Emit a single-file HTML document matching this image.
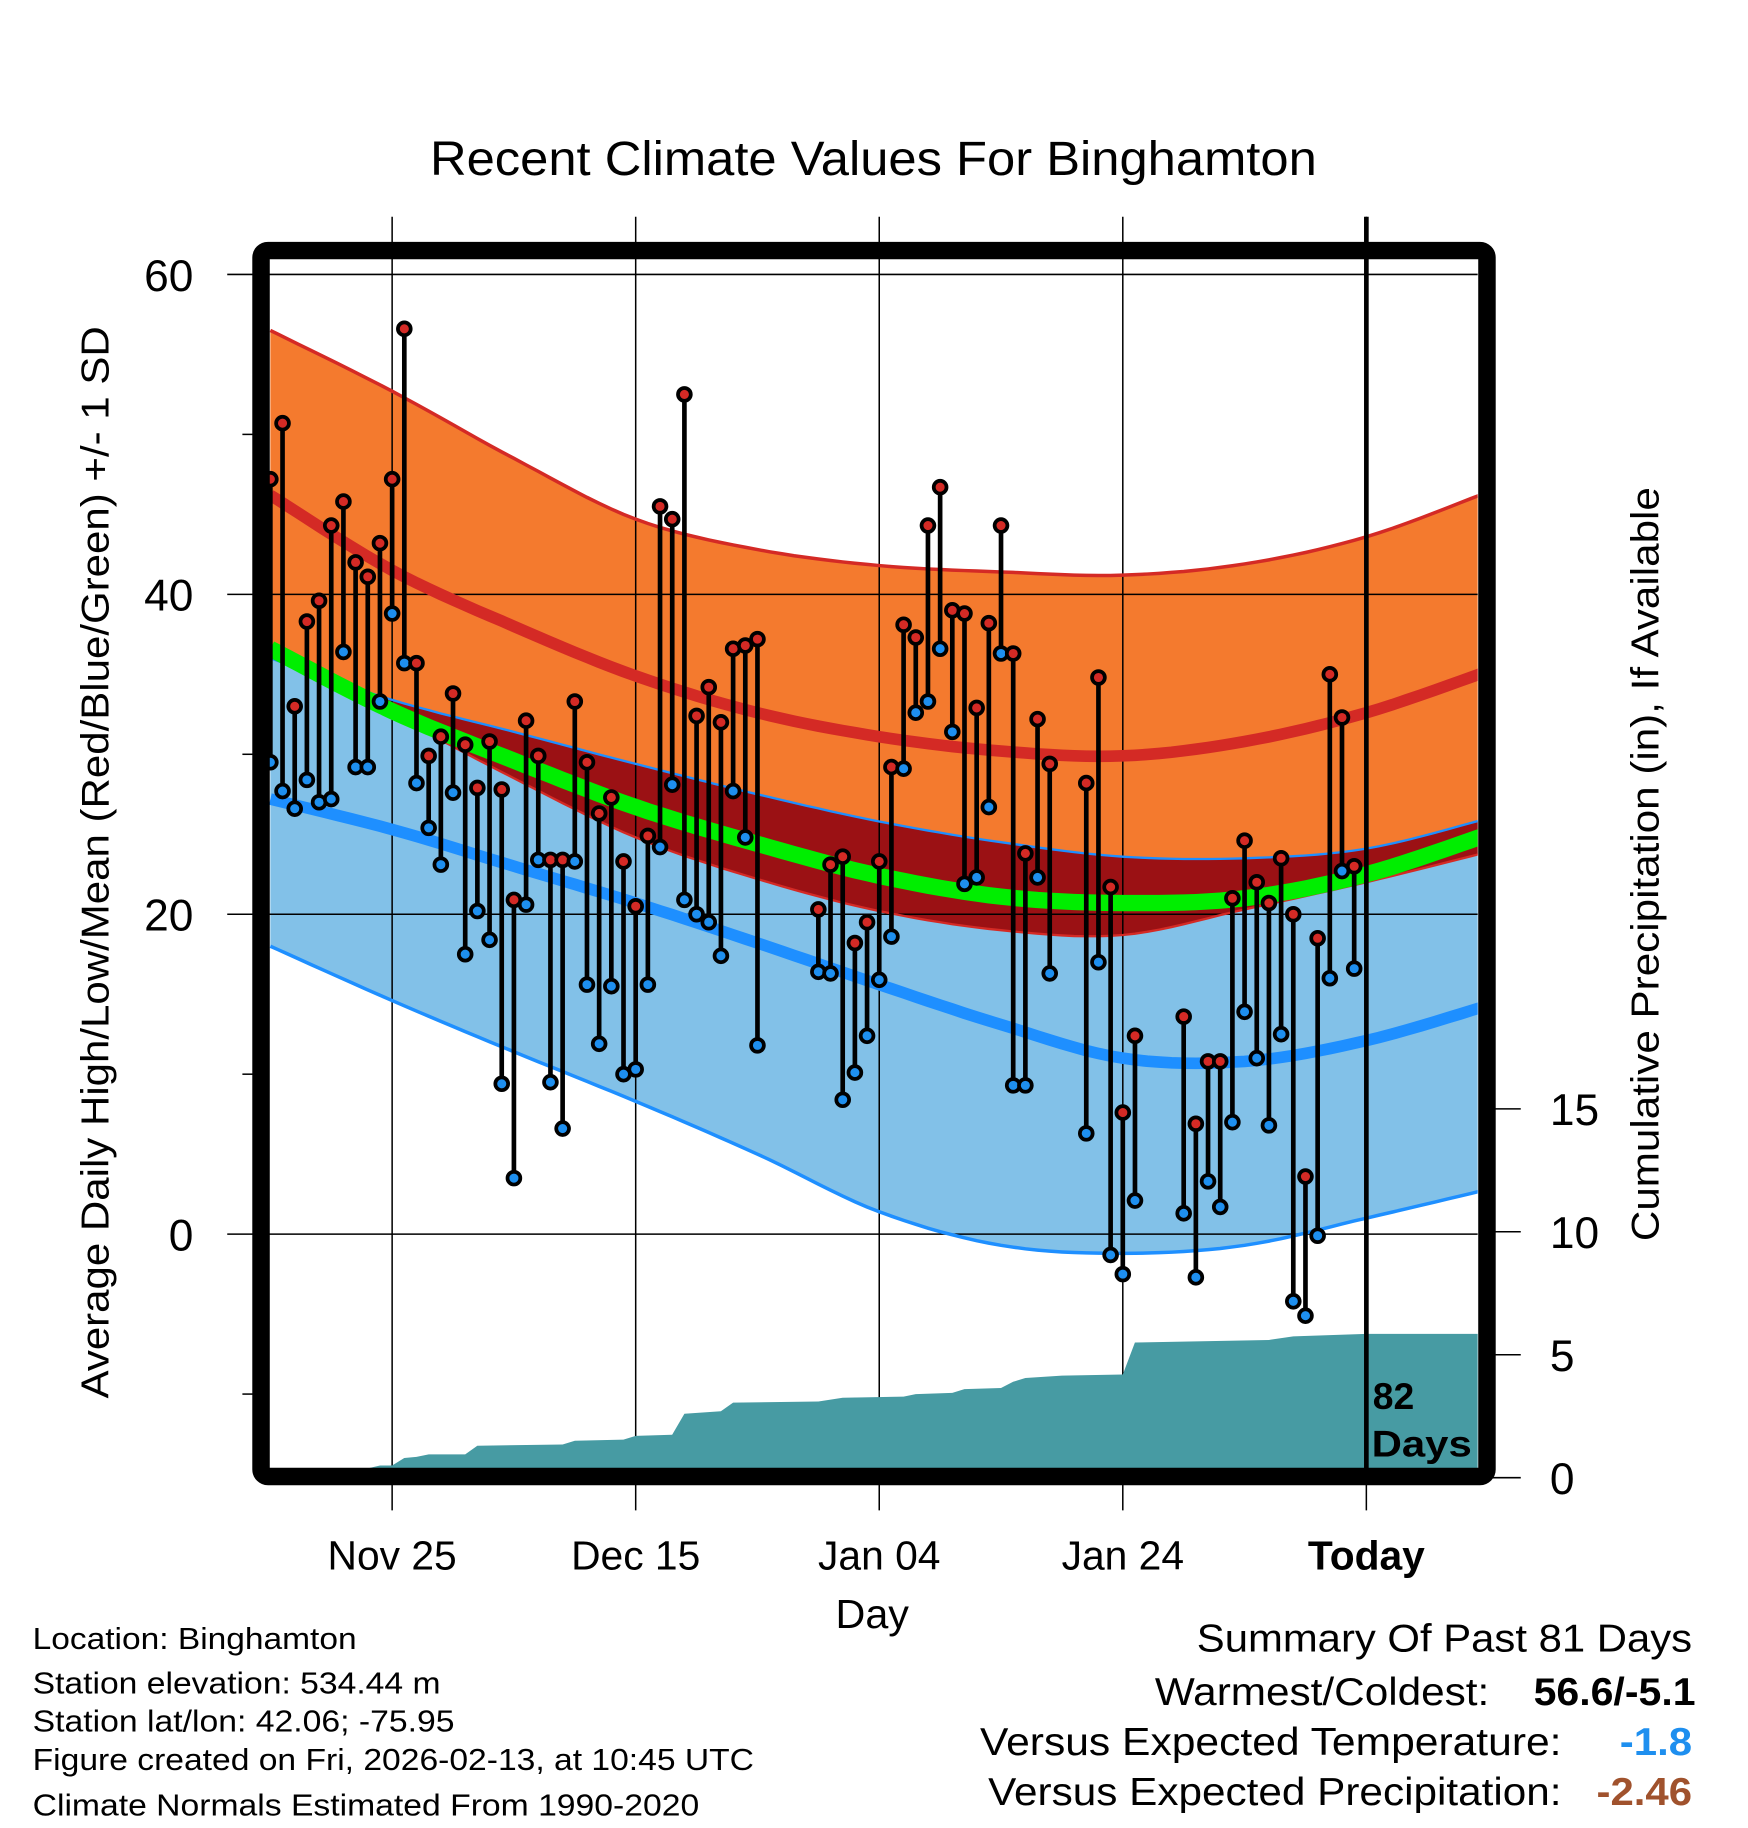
<!DOCTYPE html>
<html><head><meta charset="utf-8"><style>
html,body{margin:0;padding:0;background:#fff}
svg{display:block}
text{font-family:"Liberation Sans",Arial,sans-serif}
</style></head><body>
<svg id="chart" width="1748" height="1828" viewBox="0 0 1500 1568.6" preserveAspectRatio="none" xmlns="http://www.w3.org/2000/svg">
<g id="fills"></g>
<g id="grid"></g>
<g id="precip"></g>
<g id="lines"></g>
<g id="points"></g>
<g id="frame"></g>
<text x="369" y="150" font-size="41" textLength="761" lengthAdjust="spacingAndGlyphs">Recent Climate Values For Binghamton</text>
<text transform="translate(93,1200) rotate(-90)" font-size="33" textLength="920" lengthAdjust="spacingAndGlyphs">Average Daily High/Low/Mean (Red/Blue/Green) +/- 1 SD</text>
<text transform="translate(1423,1065) rotate(-90)" font-size="33" textLength="647" lengthAdjust="spacingAndGlyphs">Cumulative Precipitation (in), If Available</text>
<text x="717" y="1397" font-size="35" textLength="63" lengthAdjust="spacingAndGlyphs">Day</text>
<text x="1178" y="1209" font-size="32" font-weight="bold">82</text>
<text x="1177" y="1250" font-size="32" font-weight="bold" textLength="86" lengthAdjust="spacingAndGlyphs">Days</text>
<g font-size="26" lengthAdjust="spacingAndGlyphs">
<text x="28" y="1415" textLength="278" lengthAdjust="spacingAndGlyphs">Location: Binghamton</text>
<text x="28" y="1453" textLength="350" lengthAdjust="spacingAndGlyphs">Station elevation: 534.44 m</text>
<text x="28" y="1486" textLength="362" lengthAdjust="spacingAndGlyphs">Station lat/lon: 42.06; -75.95</text>
<text x="28" y="1519" textLength="619" lengthAdjust="spacingAndGlyphs">Figure created on Fri, 2026-02-13, at 10:45 UTC</text>
<text x="28" y="1558" textLength="572" lengthAdjust="spacingAndGlyphs">Climate Normals Estimated From 1990-2020</text>
</g>
<g font-size="33">
<text x="1027" y="1417" textLength="425" lengthAdjust="spacingAndGlyphs">Summary Of Past 81 Days</text>
<text x="991" y="1463" textLength="287" lengthAdjust="spacingAndGlyphs">Warmest/Coldest:</text>
<text x="1316" y="1463" font-weight="bold" textLength="139" lengthAdjust="spacingAndGlyphs">56.6/-5.1</text>
<text x="841" y="1506" textLength="499" lengthAdjust="spacingAndGlyphs">Versus Expected Temperature:</text>
<text x="1390" y="1506" font-weight="bold" fill="#1e8fef" textLength="62" lengthAdjust="spacingAndGlyphs">-1.8</text>
<text x="848" y="1549" textLength="492" lengthAdjust="spacingAndGlyphs">Versus Expected Precipitation:</text>
<text x="1370" y="1549" font-weight="bold" fill="#a0522d" textLength="82" lengthAdjust="spacingAndGlyphs">-2.46</text>
</g>
</svg>
<script>
// Normals sampled every 10 days from Nov 15 (day 0)
const normDays = [0,10,20,30,40,50,60,70,80,90,100];
const highPlusSD = [56.5,52.7,48.5,44.7,42.8,41.8,41.4,41.2,41.9,43.6,46.4];
const normHigh = [46.2,41.5,38.0,34.9,32.6,31.1,30.2,29.9,30.8,32.6,35.2];
const lowPlusSD = [36.0,33.4,31.4,29.4,27.5,25.8,24.5,23.6,23.5,24.1,26.0];
const highMinusSD = [36.5,32.5,28.5,24.8,22.2,20.2,19.0,18.7,20.3,22.0,23.9];
const normMean = [36.6,32.7,29.6,26.7,24.4,22.4,21.1,20.7,21.0,22.5,25.0];
const normLow = [27.2,25.3,23.0,20.7,18.2,15.6,13.1,11.0,10.8,12.1,14.3];
const lowMinusSD = [18.0,14.6,11.4,8.3,5.0,1.4,-0.7,-1.2,-0.7,1.0,2.8];
// Daily observations (null = missing)
const obsHigh = [47.2,50.7,33.0,38.3,39.6,44.3,45.8,42.0,41.1,43.2,47.2,56.6,35.7,29.9,31.1,33.8,30.6,27.9,30.8,27.8,20.9,32.1,29.9,23.4,23.4,33.3,29.5,26.3,27.3,23.3,20.5,24.9,45.5,44.7,52.5,32.4,34.2,32.0,36.6,36.8,37.2,null,null,null,null,20.3,23.1,23.6,18.2,19.5,23.3,29.2,38.1,37.3,44.3,46.7,39.0,38.8,32.9,38.2,44.3,36.3,23.8,32.2,29.4,null,null,28.2,34.8,21.7,7.6,12.4,null,null,null,13.6,6.9,10.8,10.8,21.0,24.6,22.0,20.7,23.5,20.0,3.6,18.5,35.0,32.3,23.0];
const obsLow = [29.5,27.7,26.6,28.4,27.0,27.2,36.4,29.2,29.2,33.3,38.8,35.7,28.2,25.4,23.1,27.6,17.5,20.2,18.4,9.4,3.5,20.6,23.4,9.5,6.6,23.3,15.6,11.9,15.5,10.0,10.3,15.6,24.2,28.1,20.9,20.0,19.5,17.4,27.7,24.8,11.8,null,null,null,null,16.4,16.3,8.4,10.1,12.4,15.9,18.6,29.1,32.6,33.3,36.6,31.4,21.9,22.3,26.7,36.3,9.3,9.3,22.3,16.3,null,null,6.3,17.0,-1.3,-2.5,2.1,null,null,null,1.3,-2.7,3.3,1.7,7.0,13.9,11.0,6.8,12.5,-4.2,-5.1,-0.1,16.0,22.7,16.6];
// Cumulative precipitation (in)
const precipDay = [0,7,8,9,10,11,12,13,16,17,24,25,29,30,33,34,37,38,45,47,52,53,56,57,60,61,62,65,70,71,82,84,90,100];
const precipCum = [0,0,0.3,0.5,0.5,0.8,0.85,0.95,0.95,1.3,1.35,1.5,1.55,1.7,1.75,2.6,2.7,3.05,3.1,3.25,3.3,3.4,3.45,3.6,3.65,3.9,4.05,4.15,4.2,5.5,5.6,5.75,5.85,5.85];
const yTicks = [60,40,20,0];
const yMinor = [50,30,10,-10];
const pTicks = [0,5,10,15];
const xTickDays = [10,30,50,70,90];
const xTickLabels = ["Nov 25","Dec 15","Jan 04","Jan 24","Today"];

const NS="http://www.w3.org/2000/svg";
const X0=232, DX=10.45, L=231, R=1268, T=222, B=1260;
const xs=d=>X0+d*DX;
const ys=v=>1059-v*13.725;
const yp=p=>1268-p*21.1;
function mk(tag,parent,attrs){const e=document.createElementNS(NS,tag);for(const k in attrs)e.setAttribute(k,attrs[k]);parent.appendChild(e);return e;}
// dense smooth (Catmull-Rom) sampling of a normals series
function smooth(arr){
  const P=normDays.map((d,i)=>[xs(d),ys(arr[i])]);
  const out=[];
  for(let i=0;i<P.length-1;i++){
    const p0=P[Math.max(0,i-1)],p1=P[i],p2=P[i+1],p3=P[Math.min(P.length-1,i+2)];
    for(let k=0;k<10;k++){
      const t=k/10,t2=t*t,t3=t2*t;
      const f=(a,b,c,d)=>0.5*((2*b)+(-a+c)*t+(2*a-5*b+4*c-d)*t2+(-a+3*b-3*c+d)*t3);
      out.push([f(p0[0],p1[0],p2[0],p3[0]),f(p0[1],p1[1],p2[1],p3[1])]);
    }
  }
  out.push(P[P.length-1]);
  return out.map(p=>p[0].toFixed(1)+','+p[1].toFixed(1));
}
const svg=document.getElementById('chart');
const defs=mk('defs',svg,{});
const cp=mk('clipPath',defs,{id:'plotclip'});
mk('rect',cp,{x:L,y:T,width:R-L,height:B-T});

const fills=document.getElementById('fills');
fills.setAttribute('clip-path','url(#plotclip)');
function band(a,b,color,name){
  const p=smooth(a).concat(smooth(b).reverse()).join(' ');
  const e=mk('polygon',fills,{points:p,fill:color});
  
  
}
band(highPlusSD,highMinusSD,'#f47a2e','high-sd-band');
band(lowPlusSD,lowMinusSD,'#82c1e8','low-sd-band');
band(lowPlusSD,highMinusSD,'#9b1114','overlap-band');

const grid=document.getElementById('grid');
yTicks.forEach(v=>{
  const l=mk('line',grid,{x1:195,x2:R,y1:ys(v),y2:ys(v),stroke:'#000','stroke-width':1.3});
  
  
  const t=mk('text',grid,{x:166,y:ys(v)+14,'font-size':38,'text-anchor':'end'});
  
  
  t.textContent=v;
});
yMinor.forEach(v=>{
  const l=mk('line',grid,{x1:208,x2:220,y1:ys(v),y2:ys(v),stroke:'#000','stroke-width':1.3});
  
  
});
pTicks.forEach(p=>{
  const l=mk('line',grid,{x1:1280,x2:1305,y1:yp(p),y2:yp(p),stroke:'#000','stroke-width':1.3});
  
  
  const t=mk('text',grid,{x:1330,y:yp(p)+14,'font-size':38});
  
  
  t.textContent=p;
});
xTickDays.forEach((d,i)=>{
  const l=mk('line',grid,{x1:xs(d),x2:xs(d),y1:186,y2:1296,stroke:'#000','stroke-width':1.3});
  
  
  const t=mk('text',grid,{x:xs(d),y:1347,'font-size':35,'text-anchor':'middle'});
  if(xTickLabels[i]==='Today')t.setAttribute('font-weight','bold');
  
  
  t.textContent=xTickLabels[i];
});

const pg=document.getElementById('precip');
pg.setAttribute('clip-path','url(#plotclip)');
let pp=[xs(0)+','+B];
precipDay.forEach((d,i)=>pp.push(xs(d).toFixed(1)+','+Math.min(B,yp(precipCum[i])).toFixed(1)));
pp.push(xs(100)+','+B);
const pa=mk('polygon',pg,{points:pp.join(' '),fill:'#479ba3'});



const lg=document.getElementById('lines');
lg.setAttribute('clip-path','url(#plotclip)');
function line(arr,color,w,name){
  const e=mk('polyline',lg,{points:smooth(arr).join(' '),fill:'none',stroke:color,'stroke-width':w});
  
  
}
line(highPlusSD,'#d42a25',3,'high-plus-sd-line');
line(highMinusSD,'#d42a25',2,'high-minus-sd-line');
line(lowPlusSD,'#1e8fff',2,'low-plus-sd-line');
line(lowMinusSD,'#1e8fff',3,'low-minus-sd-line');
line(normHigh,'#d42a25',10,'normal-high-line');
line(normLow,'#1e8fff',10,'normal-low-line');
line(normMean,'#00ee00',14,'normal-mean-line');

const today=mk('line',lg.parentNode,{x1:xs(90),x2:xs(90),y1:186,y2:B,stroke:'#000','stroke-width':4});



const pgp=document.getElementById('points');
obsHigh.forEach((h,d)=>{
  const lo=obsLow[d];
  if(h===null||lo===null)return;
  const x=xs(d);
  const s=mk('line',pgp,{x1:x,x2:x,y1:ys(h),y2:ys(lo),stroke:'#000','stroke-width':4});
  
  
  const c1=mk('circle',pgp,{cx:x,cy:ys(h),r:5.5,fill:'#d42a25',stroke:'#000','stroke-width':3.2});
  
  
  const c2=mk('circle',pgp,{cx:x,cy:ys(lo),r:5.5,fill:'#1e8fef',stroke:'#000','stroke-width':3.2});
  
  
});

const fr=document.getElementById('frame');
const rr=mk('rect',fr,{x:224,y:215,width:1052,height:1052,rx:6,fill:'none',stroke:'#000','stroke-width':15});


</script>
</body></html>
